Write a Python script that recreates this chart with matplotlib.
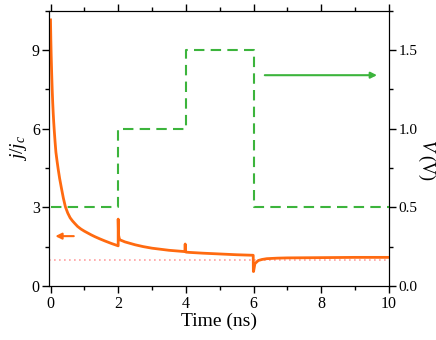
import matplotlib
matplotlib.use("Agg")
import matplotlib.pyplot as plt
from matplotlib.ticker import MultipleLocator, FormatStrFormatter

plt.rcParams['font.family'] = ['Liberation Serif', 'DejaVu Serif']
plt.rcParams['mathtext.fontset'] = 'custom'
plt.rcParams['mathtext.rm'] = 'Liberation Serif'
plt.rcParams['mathtext.it'] = 'Liberation Serif:italic'

# current density j/jc vs time (ns)
time_ns = [0.0, 0.01, 0.02, 0.035, 0.05, 0.065, 0.08, 0.095, 0.11, 0.135, 0.16, 0.195, 0.23, 0.27,
           0.32, 0.38, 0.44, 0.51, 0.58, 0.65, 0.72, 0.8, 0.9, 1.0, 1.1, 1.2, 1.31, 1.45, 1.6, 1.8, 2.0,
           2.0, 2.01, 2.03, 2.05, 2.2, 2.5, 2.74, 3.0, 3.5, 3.97,
           3.98, 3.99, 4.01, 4.1, 4.5, 5.0, 5.5, 5.99,
           5.995, 6.0, 6.04, 6.14, 6.25, 6.39, 6.7, 7.0, 8.0, 9.0, 10.0]
j_ratio = [10.15, 9.4, 8.8, 8.1, 7.5, 7.0, 6.6, 6.25, 5.95, 5.5, 5.1, 4.75, 4.43, 4.1,
           3.75, 3.35, 3.02, 2.78, 2.6, 2.48, 2.38, 2.27, 2.17, 2.09, 2.02, 1.95, 1.88, 1.8, 1.72, 1.62, 1.53,
           2.55, 1.95, 1.82, 1.76, 1.68, 1.57, 1.50, 1.44, 1.36, 1.31,
           1.60, 1.30, 1.29, 1.28, 1.25, 1.22, 1.19, 1.17,
           0.55, 0.55, 0.85, 0.97, 1.01, 1.04, 1.06, 1.07, 1.08, 1.09, 1.09]

# applied voltage (V)
v_time = [0, 2, 2, 4, 4, 6, 6, 10]
v_volts = [0.5, 0.5, 1.0, 1.0, 1.5, 1.5, 0.5, 0.5]

jc_level = 1.0

fig = plt.figure(figsize=(4.36, 3.40), dpi=100)
ax = fig.add_axes([0.1135, 0.159, 0.7785, 0.8095])
ax2 = ax.twinx()

orange = '#ff6a10'
green = '#3cb43c'

ax.axhline(jc_level, color='#ffa0a0', lw=1.2, ls=(0, (1, 2.0)), zorder=1)
ax.plot(time_ns, j_ratio, color=orange, lw=2.0, zorder=3)
ax2.plot(v_time, v_volts, color=green, lw=1.5, ls=(0, (5, 3)))

ax.set_xlim(-0.03, 10)
ax.set_ylim(0, 10.5)
ax2.set_ylim(0, 1.75)

ax.xaxis.set_major_locator(MultipleLocator(2))
ax.xaxis.set_minor_locator(MultipleLocator(1))
ax.yaxis.set_major_locator(MultipleLocator(3))
ax.yaxis.set_minor_locator(MultipleLocator(1.5))
ax2.yaxis.set_major_locator(MultipleLocator(0.5))
ax2.yaxis.set_minor_locator(MultipleLocator(0.25))
ax2.yaxis.set_major_formatter(FormatStrFormatter('%.1f'))

ax.tick_params(axis='x', which='both', direction='out', top=True, labelsize=11.5, pad=2)
ax.tick_params(axis='y', which='both', direction='out', labelsize=11.5, pad=2)
ax.tick_params(which='major', length=5, width=1)
ax.tick_params(which='minor', length=3, width=1)
ax2.tick_params(axis='y', which='both', direction='out', labelsize=11, pad=2)
ax2.tick_params(which='major', length=5, width=1)
ax2.tick_params(which='minor', length=3, width=1)

ax.set_xlabel('Time (ns)', fontsize=14, labelpad=1)
ax.set_ylabel(r'$j/j_c$', fontsize=14, labelpad=2)
fig.text(0.978, 0.53, r'$V$ (V)', fontsize=13, rotation=270, ha='center', va='center')

ax.annotate('', xy=(0.06, 1.9), xytext=(0.77, 1.9),
            arrowprops=dict(arrowstyle='-|>', color=orange, lw=1.5, mutation_scale=9))
ax2.annotate('', xy=(9.73, 1.34), xytext=(6.25, 1.34),
             arrowprops=dict(arrowstyle='-|>', color=green, lw=1.5, mutation_scale=9))

fig.savefig('out.png', dpi=100)
